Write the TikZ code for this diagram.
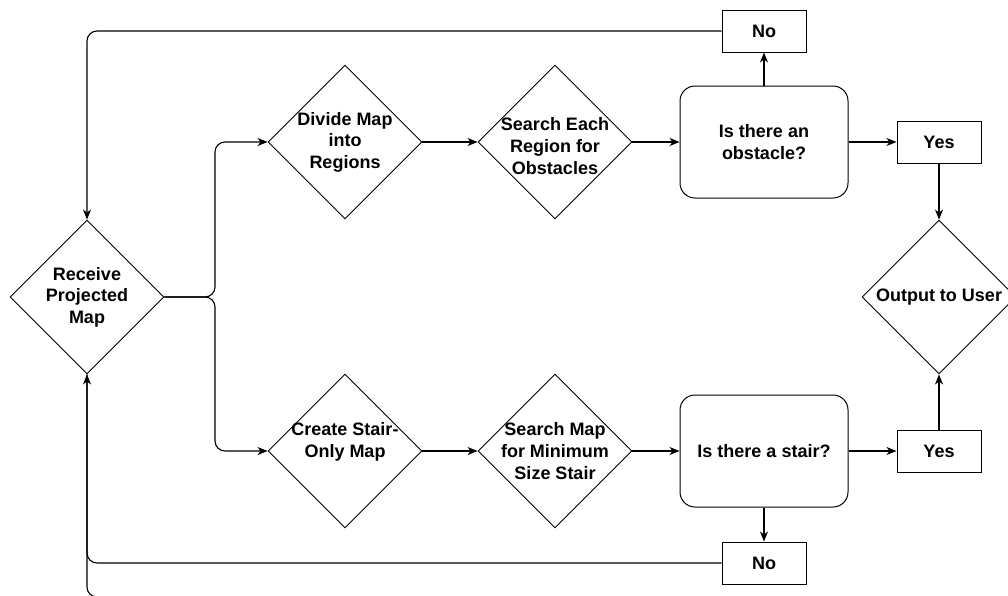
\documentclass[tikz,border=0pt]{standalone}
\usepackage{fontspec}
\setmainfont{Liberation Sans}
\usetikzlibrary{shapes.geometric,arrows.meta}
\begin{document}
\begin{tikzpicture}[x=1pt,y=-1pt,
  lbl/.style={font=\bfseries\fontsize{18}{21.6}\selectfont, align=center},
  dia/.style={diamond, draw, line width=0.9pt, minimum width=154pt, minimum height=154pt, inner sep=0pt},
  rbox/.style={draw, rounded corners=15pt, line width=1pt, minimum width=168pt, minimum height=112pt, lbl},
  box/.style={draw, line width=1pt, minimum width=84pt, minimum height=42pt, lbl},
  conn/.style={line width=1.1pt, rounded corners=10pt},
  arr/.style={conn, -{Stealth[length=10pt,width=8pt,inset=3pt]}}]
\useasboundingbox (0,0) rectangle (1008,595);

% decision-style process steps
\node[dia, label={[lbl]center:Receive\\Projected\\Map}] (rcv) at (87,297) {};
\node[dia, label={[lbl]center:Divide Map\\into\\Regions}] (divide) at (345,142) {};
\node[dia, label={[lbl,yshift=-4pt]center:Search Each\\Region for\\Obstacles}] (searchobs) at (555,142) {};
\node[dia, label={[lbl,yshift=9pt]center:Create Stair-\\Only Map}] (create) at (345,451) {};
\node[dia, label={[lbl]center:Search Map\\for Minimum\\Size Stair}] (searchstair) at (555,451) {};
\node[dia, label={[lbl]center:Output to User}] (out) at (939,297) {};

% questions
\node[rbox] (qobs) at (764,142) {Is there an\\obstacle?};
\node[rbox] (qstair) at (764,451) {Is there a stair?};

% answers
\node[box] (notop) at (764,31) {No};
\node[box] (yestop) at (939,142) {Yes};
\node[box] (yesbot) at (939,451) {Yes};
\node[box] (nobot) at (764,563) {No};

% branching from the projected map
\coordinate (fork) at (215,297);
\draw[arr] (rcv.east) -- (fork) |- (divide.west);
\draw[arr] (rcv.east) -- (fork) |- (create.west);

% obstacle branch
\draw[arr] (divide.east) -- (searchobs.west);
\draw[arr] (searchobs.east) -- (qobs.west);
\draw[arr] (qobs.north) -- (notop.south);
\draw[arr] (qobs.east) -- (yestop.west);
\draw[arr] (yestop.south) -- (out.north);
\draw[arr] (notop.west) -| (rcv.north);

% stair branch
\draw[arr] (create.east) -- (searchstair.west);
\draw[arr] (searchstair.east) -- (qstair.west);
\draw[arr] (qstair.south) -- (nobot.north);
\draw[arr] (qstair.east) -- (yesbot.west);
\draw[arr] (yesbot.north) -- (out.south);
\draw[arr] (nobot.west) -| (rcv.south);

% return line entering from below
\coordinate (stub) at (130,597);
\draw[conn] (stub) -| (rcv.south);
\end{tikzpicture}
\end{document}
